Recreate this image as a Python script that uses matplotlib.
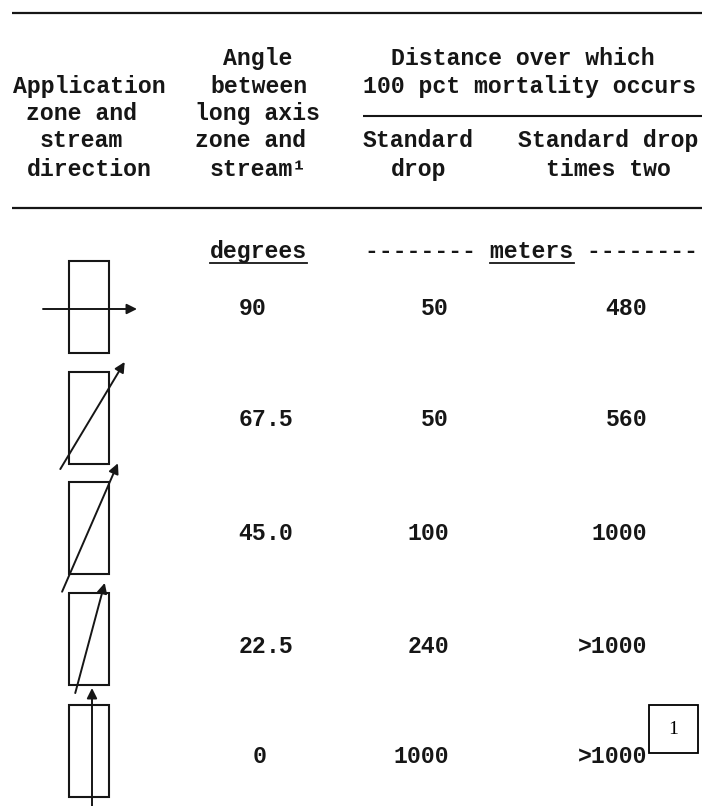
import matplotlib
matplotlib.use("Agg")
import matplotlib.pyplot as plt
from matplotlib.patches import Rectangle
import numpy as np

# ---- table content ----
angles = ["90", "67.5", "45.0", "22.5", "0"]
standard_drop = ["50", "50", "100", "240", "1000"]
times_two = ["480", "560", "1000", ">1000", ">1000"]

# drawn arrow tilt of each sketch (degrees from the zone's long axis, as drawn)
sketch_tilt = [90, 31, 23.5, 15, 0]

# header lines: (text, left x, header line index)
header_lines = [
    ("Angle", 223, 0),
    ("Distance over which", 391, 0),
    ("Application", 13, 1),
    ("between", 210, 1),
    ("100 pct mortality occurs", 363, 1),
    ("zone and", 26, 2),
    ("long axis", 195, 2),
    ("stream", 40, 3),
    ("zone and", 195, 3),
    ("Standard", 363, 3),
    ("Standard drop", 518, 3),
    ("direction", 27, 4),
    ("stream\u00b9", 210, 4),
    ("drop", 391, 4),
    ("times two", 546, 4),
]
header_baselines = [65, 93, 120, 147, 176]

W, H = 702, 806
INK = "#161616"
FONT = "Liberation Mono"
FS = 16.7

fig = plt.figure(figsize=(W / 100, H / 100), dpi=100)
ax = fig.add_axes([0, 0, 1, 1])
ax.set_xlim(0, W)
ax.set_ylim(H, 0)
ax.axis("off")

txt = dict(family=FONT, fontsize=FS, color=INK, weight="bold", va="baseline")

# rules
ax.plot([12, W], [13, 13], color=INK, lw=1.6, solid_capstyle="butt")
ax.plot([363, W], [116, 116], color=INK, lw=1.5, solid_capstyle="butt")
ax.plot([12, W], [208, 208], color=INK, lw=1.6, solid_capstyle="butt")

# header
for t, x, li in header_lines:
    ax.text(x, header_baselines[li], t, ha="left", **txt)

# units line
ax.text(210, 258, "degrees", ha="left", **txt)
ax.plot([210, 307], [263, 263], color=INK, lw=1.3)
ax.text(365, 258, "-------- meters --------", ha="left", **txt)
ax.plot([490, 574], [263, 263], color=INK, lw=1.3)

# rows
row_y = [307, 418, 532, 645, 755]
icon_dy = [0, -0.5, -4.5, -6, -4.5]
arrow_c = [(90, 309), (92.5, 415.5), (90, 527.5), (90, 638), (92, 747)]
arrow_len = [94, 125, 140, 114, 118]

for i, y in enumerate(row_y):
    a = angles[i]
    if "." in a:
        ip, fp = a.split(".")
        ax.text(266, y + 8, ip, ha="right", **txt)
        ax.text(266, y + 8, "." + fp, ha="left", **txt)
    else:
        ax.text(266, y + 8, a, ha="right", **txt)
    ax.text(449, y + 8, standard_drop[i], ha="right", **txt)
    ax.text(647, y + 8, times_two[i], ha="right", **txt)

    # sketch: application zone rectangle with stream arrow
    cy = y + icon_dy[i]
    ax.add_patch(Rectangle((89 - 20, cy - 46), 40, 92, fill=False,
                           ec=INK, lw=1.5))
    t = np.deg2rad(sketch_tilt[i])
    d = np.array([np.sin(t), -np.cos(t)])
    c = np.array(arrow_c[i])
    tail = c - d * arrow_len[i] / 2
    head = c + d * arrow_len[i] / 2
    ax.annotate("", xy=tuple(head), xytext=tuple(tail),
                arrowprops=dict(arrowstyle="-|>", lw=1.4, color=INK,
                                mutation_scale=15, shrinkA=0, shrinkB=0))

# page-number box
ax.add_patch(Rectangle((649, 705), 49, 48, fill=False, ec="black", lw=1.3))
ax.text(673.5, 729, "1", ha="center", va="center",
        family="Liberation Serif", fontsize=14, color="black")

fig.savefig("out.png", dpi=100)
